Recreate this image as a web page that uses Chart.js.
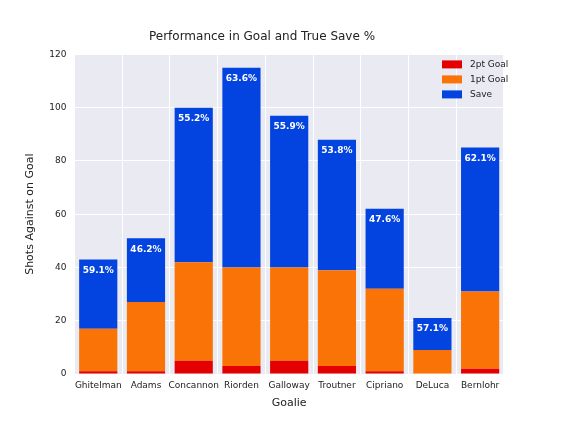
<!DOCTYPE html>
<html><head><script src="https://cdn.jsdelivr.net/npm/chart.js@4"></script>
<style>body{margin:0;background:#fff}#w{width:576px;height:432px}</style></head>
<body><div id="w"><canvas id="c"></canvas></div>
<script>
const goalies=["Ghitelman","Adams","Concannon","Riorden","Galloway","Troutner","Cipriano","DeLuca","Bernlohr"];
const twoPt=[1,1,5,3,5,3,1,0,2];
const onePt=[16,26,37,37,35,36,31,9,29];
const saves=[26,24,58,75,57,49,30,12,54];
const pctLabels=["59.1%","46.2%","55.2%","63.6%","55.9%","53.8%","47.6%","57.1%","62.1%"];
const yTicks=[0,20,40,60,80,100,120];
const bg={id:'bg',beforeDraw(ch){const a=ch.chartArea,c=ch.ctx;c.save();c.fillStyle='#eaeaf2';c.fillRect(a.left,a.top,a.width,a.height);c.restore();}};
const lbl={id:'lbl',afterDatasetsDraw(ch){const c=ch.ctx,m=ch.getDatasetMeta(2);c.save();c.fillStyle='#fff';c.font='bold 9px "DejaVu Sans"';c.textAlign='center';c.textBaseline='middle';
m.data.forEach((b,i)=>{c.fillText(pctLabels[i],b.x,b.y+11);});
const a=ch.chartArea;c.font='9px "DejaVu Sans"';c.textAlign='left';c.fillStyle='#eaeaf2';
ch.data.datasets.forEach((d,i)=>{const y=a.top+10+i*15;c.fillStyle=d.backgroundColor;c.fillRect(a.right-62,y-4,20,8);c.fillStyle='#222';c.fillText(d.label,a.right-34,y);});
c.restore();}};
new Chart(document.getElementById('c'),{type:'bar',
data:{labels:goalies,datasets:[
{label:'2pt Goal',data:twoPt,backgroundColor:'#e50000'},
{label:'1pt Goal',data:onePt,backgroundColor:'#f97306'},
{label:'Save',data:saves,backgroundColor:'#0343df'}]},
options:{responsive:true,maintainAspectRatio:false,animation:false,
layout:{padding:{left:20,right:72,top:8,bottom:18}},
datasets:{bar:{categoryPercentage:0.8,barPercentage:1}},
plugins:{title:{display:true,text:'Performance in Goal and True Save %',color:'#222',font:{family:'DejaVu Sans',size:12,weight:'normal'},padding:{top:22,bottom:10}},
legend:{display:false},tooltip:{enabled:false}},
scales:{x:{stacked:true,grid:{color:'#fff',lineWidth:1,drawTicks:false},border:{display:false},ticks:{color:'#222',font:{family:'DejaVu Sans',size:9},padding:6,maxRotation:0,minRotation:0,autoSkip:false},
title:{display:true,text:'Goalie',color:'#222',font:{family:'DejaVu Sans',size:11},padding:{top:0}}},
y:{stacked:true,min:0,max:120,grid:{color:'#fff',drawTicks:false},border:{display:false},
afterBuildTicks(s){s.ticks=yTicks.map(v=>({value:v}));},
ticks:{color:'#222',font:{family:'DejaVu Sans',size:9},padding:8},
title:{display:true,text:'Shots Against on Goal',color:'#222',font:{family:'DejaVu Sans',size:11}}}}},
plugins:[bg,lbl]});
</script></body></html>
